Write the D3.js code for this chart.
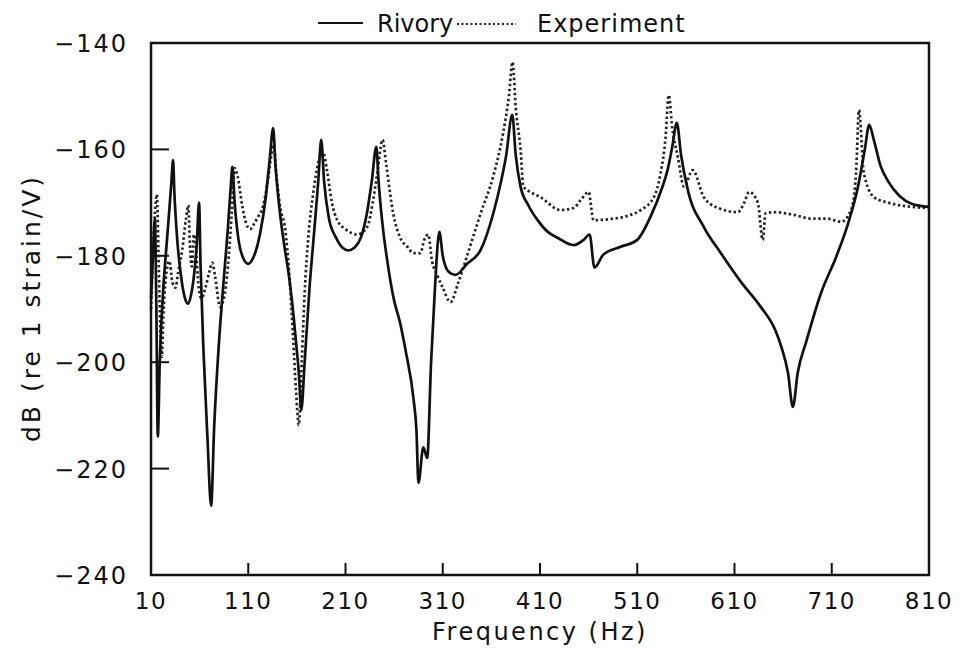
<!DOCTYPE html>
<html>
<head>
<meta charset="utf-8">
<script src="https://cdn.jsdelivr.net/npm/d3@7"></script>
<style>
  body { margin: 0; background: #fff; }
  text { font-family: "DejaVu Sans", sans-serif; fill: #111; }
</style>
</head>
<body>
<svg id="chart" width="965" height="648"></svg>
<script>
// Rivory (solid) - frequency Hz / dB
const rivoryFreq = [10, 12, 14, 15.5, 17, 19, 22, 26, 29, 31, 32.7, 34, 37, 41, 45, 48, 51, 54, 57, 59.4,
  61, 64, 68, 71.8, 75, 80, 85, 89, 92, 93.7, 96, 100, 105, 110, 116, 122, 128, 132, 135.6, 138,
  142, 147, 152, 155, 159, 162, 164.5, 168, 173, 178, 182, 185, 188, 193, 200, 207, 213, 219, 226, 232, 237,
  241.7, 244, 248, 253, 259.5, 266, 272, 280, 283, 285, 290, 294, 298, 302, 306.5, 310, 316, 323, 335, 349, 362, 370, 375,
  381.5, 385, 390, 398, 407.5, 418, 428, 444.6, 455, 461, 466, 475, 493, 510, 524, 535, 541, 546, 550.7,
  555, 562, 578.5, 596, 617, 637, 652, 658, 665, 670, 675, 684, 699, 715, 727, 737, 744, 748.5, 753, 760,
  768, 780, 792, 810];
const rivoryDb = [-188, -180, -173, -190, -214, -200, -188, -178, -171, -166, -162, -168, -177, -184, -188, -189, -187.5, -184, -178, -170,
  -182, -198, -214, -227, -212, -196, -184, -175, -167, -163.3, -170, -177, -180.5, -181.5, -180, -176, -169, -162, -156, -163,
  -171, -178, -184, -188.5, -196, -202, -209, -200, -186, -175, -166, -158.2, -166, -173, -176.5, -178.5, -179, -178.5, -176.5, -172, -166,
  -159.5, -166, -174, -181, -188, -192.5, -198, -207, -213, -222.7, -216, -218, -200, -186, -175.5, -180, -183, -183.6, -181.5, -178.9, -172, -166, -161.4,
  -153.5, -161, -167, -170.5, -173.3, -175.5, -176.6, -178, -177, -176, -182.2, -179.8, -178.3, -177, -172.5, -167.5, -164, -159.5, -155,
  -161, -167.6, -174.6, -179.5, -185, -189.6, -194, -197, -202, -208.4, -202, -196, -187, -180, -173.8, -167, -160, -155.4, -158, -163,
  -166, -168.8, -170.2, -170.8];

// Experiment (dotted)
const expFreq = [10, 12, 14, 16, 17.5, 19, 21, 23, 26, 29, 32, 35, 38, 42, 46, 48.4, 50, 52, 54, 56,
  59, 62, 66, 70, 73, 76, 81, 86, 90, 93, 96, 99, 104, 108, 112, 116, 120, 125, 130, 133,
  136, 139, 143, 148, 152, 156, 159, 162, 165, 168, 172, 177, 182, 187, 191, 196, 201.5, 210, 222, 232.5,
  238, 243, 248, 252, 259, 266, 273.6, 280, 287, 291, 295, 299, 304, 310, 318, 326, 335, 349, 362, 372,
  378, 381.8, 385, 390, 393, 400, 410.6, 431, 444.6, 452, 460, 465, 486, 500, 513.6, 527, 534, 539, 542.4, 546,
  551.7, 558, 567, 578.5, 593, 613.5, 620, 625, 634, 639, 642, 650.6, 671, 688.7, 705, 719.6, 729.9, 735, 738, 743,
  753.5, 768, 791.6, 810];
const expDb = [-190, -180, -172, -168.5, -178, -190, -199, -190, -183, -181, -185, -186, -183, -179, -173, -170.5, -178, -182, -176, -178,
  -186, -188, -186, -183, -181.3, -184, -189.6, -187, -180, -172, -163.5, -165, -170.8, -174, -175, -174, -172.7, -170.8, -166, -162,
  -159, -165, -171, -175, -183, -195, -205, -211.8, -200, -187, -176, -168, -162.5, -160.5, -164, -170, -173.3, -175, -176, -174.5,
  -170, -164, -158.2, -163, -172, -176.5, -178.3, -179.5, -179.5, -177, -176, -181, -183.5, -186, -188.7, -185, -180, -172, -165, -157,
  -150, -143.6, -152, -160, -167, -168, -169, -171.4, -171, -169.5, -168, -173.3, -173, -172.5, -171.4, -169, -164.5, -158, -149.8, -156,
  -161.4, -167, -163.9, -169, -171, -171.8, -170, -168, -170, -177, -172, -171.8, -172.3, -173, -173, -173.6, -171.4, -164.4, -152.6, -164.4,
  -169, -170, -170.8, -171];

const xTicks = [10, 110, 210, 310, 410, 510, 610, 710, 810];
const yTicks = [-240, -220, -200, -180, -160, -140];

const svg = d3.select("#chart");
const margin = {top: 43, right: 36, bottom: 73, left: 151};
const width = 965 - margin.left - margin.right,
      height = 648 - margin.top - margin.bottom;

const x = d3.scaleLinear().domain([10, 810]).range([0, width]);
const y = d3.scaleLinear().domain([-240, -140]).range([height, 0]);

const g = svg.append("g").attr("transform", "translate(" + margin.left + "," + margin.top + ")");

// inward ticks
g.selectAll(".xt").data(xTicks.slice(1, -1)).enter().append("line")
  .attr("x1", d => x(d)).attr("x2", d => x(d))
  .attr("y1", height).attr("y2", height - 12)
  .attr("stroke", "#111").attr("stroke-width", 2);
g.selectAll(".yt").data(yTicks.slice(1, -1)).enter().append("line")
  .attr("x1", 0).attr("x2", 18)
  .attr("y1", d => y(d)).attr("y2", d => y(d))
  .attr("stroke", "#111").attr("stroke-width", 2);

// tick labels
g.selectAll(".xl").data(xTicks).enter().append("text")
  .attr("x", d => x(d)).attr("y", height + 34)
  .attr("text-anchor", "middle")
  .style("font-size", "23px").style("letter-spacing", "1.5px")
  .text(d => d);
g.selectAll(".yl").data(yTicks).enter().append("text")
  .attr("x", -23).attr("y", d => y(d) + 9)
  .attr("text-anchor", "end")
  .style("font-size", "24px").style("letter-spacing", "2px")
  .text(d => "\u2212" + Math.abs(d));

// curves
const line = d3.line().x(d => x(d[0])).y(d => y(d[1])).curve(d3.curveMonotoneX);
const rivory = rivoryFreq.map((f, i) => [f, rivoryDb[i]]);
const experiment = expFreq.map((f, i) => [f, expDb[i]]);

g.append("path").datum(experiment)
  .attr("d", line).attr("fill", "none")
  .attr("stroke", "#222").attr("stroke-width", 2.7)
  .attr("stroke-dasharray", "2.4,2.6");
g.append("path").datum(rivory)
  .attr("d", line).attr("fill", "none")
  .attr("stroke", "#111").attr("stroke-width", 2.7)
  .attr("stroke-linejoin", "round");

// frame
g.append("rect").attr("width", width).attr("height", height)
  .attr("fill", "none").attr("stroke", "#111").attr("stroke-width", 2.5);

// axis titles
svg.append("text")
  .attr("x", margin.left + x(410)).attr("y", 640)
  .attr("text-anchor", "middle")
  .style("font-size", "24px").style("letter-spacing", "2.5px")
  .text("Frequency  (Hz)");
svg.append("text")
  .attr("transform", "translate(40,308) rotate(-90)")
  .attr("text-anchor", "middle")
  .style("font-size", "25px").style("letter-spacing", "3px")
  .text("dB  (re 1  strain/V)");

// legend
const leg = svg.append("g");
leg.append("line").attr("x1", 318).attr("x2", 363).attr("y1", 23).attr("y2", 23)
  .attr("stroke", "#111").attr("stroke-width", 2.2);
leg.append("text").attr("x", 377).attr("y", 32)
  .style("font-size", "24px").text("Rivory");
leg.append("line").attr("x1", 457).attr("x2", 516).attr("y1", 24).attr("y2", 24)
  .attr("stroke", "#222").attr("stroke-width", 2).attr("stroke-dasharray", "2,2.5");
leg.append("text").attr("x", 537).attr("y", 32)
  .style("font-size", "24px").style("letter-spacing", "1px").text("Experiment");
</script>
</body>
</html>
